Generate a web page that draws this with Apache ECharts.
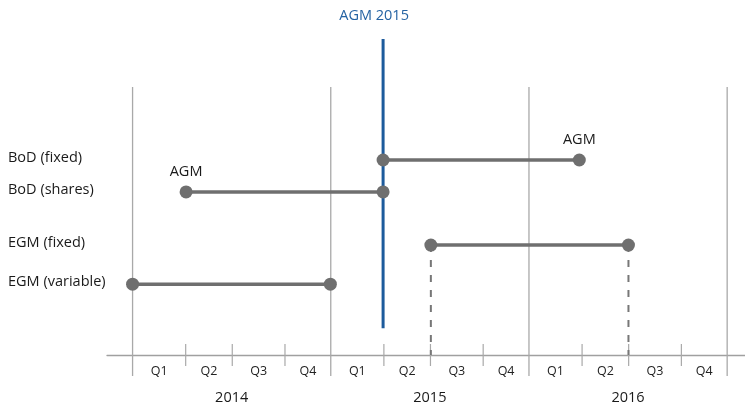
<!DOCTYPE html>
<html>
<head>
<meta charset="utf-8">
<script src="https://cdn.jsdelivr.net/npm/echarts@6/dist/echarts.min.js"></script>
<style>html,body{margin:0;padding:0;background:#fff}#c{width:745px;height:407px}</style>
</head>
<body>
<div id="c"></div>
<script>
// ---- data ----
const years = ['2014', '2015', '2016'];
const quarters = ['Q1', 'Q2', 'Q3', 'Q4'];
const quarterStarts = [0, 0.268, 0.503, 0.769]; // fraction of year at which each quarter starts
const rows = ['BoD (fixed)', 'BoD (shares)', 'EGM (fixed)', 'EGM (variable)'];
const rowLevel = [6.17, 5.16, 3.48, 2.24];
const rangeStart = [1.264, 0.27, 1.505, 0.0];
const rangeEnd = [2.254, 1.264, 2.502, 0.998];
const agmLabelEnd = ['end', 'start', null, null];
const dashedRow = [false, false, true, false];
const agm2015 = 1.264;
const agm2015Label = 'AGM 2015';
const agmLabel = 'AGM';

const FONT = 'Open Sans';
const GRAY = '#6f6f6f';
const GRID_GRAY = '#a9a9a9';

const chart = echarts.init(document.getElementById('c'), null, {renderer: 'canvas'});

const series = [];

// year gridlines, quarter ticks and labels
series.push({
  type: 'custom', z: 1, silent: true,
  data: years.map((y, i) => [i]).concat([[years.length]]),
  renderItem: (params, api) => {
    const i = api.value(0);
    const base = api.coord([i, 0]);
    const children = [{
      type: 'line',
      shape: {x1: base[0], y1: base[1] - 268, x2: base[0], y2: base[1] + 21},
      style: {stroke: GRID_GRAY, lineWidth: 1.3}
    }];
    if (i < years.length) {
      const bounds = quarterStarts.concat([1]);
      for (let q = 0; q < quarters.length; q++) {
        if (q > 0) {
          const t = api.coord([i + quarterStarts[q], 0]);
          children.push({
            type: 'line',
            shape: {x1: t[0], y1: t[1] - 11, x2: t[0], y2: t[1] + 11},
            style: {stroke: GRID_GRAY, lineWidth: 1.2}
          });
        }
        const m = api.coord([i + (bounds[q] + bounds[q + 1]) / 2, 0]);
        children.push({
          type: 'text', x: m[0], y: m[1] + 16,
          style: {text: quarters[q], fill: '#222', fontSize: 12.5, fontFamily: FONT,
                  align: 'center', verticalAlign: 'middle', textAlign: 'center', textVerticalAlign: 'middle'}
        });
      }
      const ym = api.coord([i + 0.5, 0]);
      children.push({
        type: 'text', x: ym[0], y: ym[1] + 42.5,
        style: {text: years[i], fill: '#1a1a1a', fontSize: 14.5, fontFamily: FONT,
                align: 'center', verticalAlign: 'middle', textAlign: 'center', textVerticalAlign: 'middle'}
      });
    }
    return {type: 'group', children};
  }
});

// row labels
series.push({
  type: 'custom', z: 5, silent: true,
  data: rows.map((r, i) => [0, rowLevel[i]]),
  renderItem: (params, api) => {
    const p = api.coord([api.value(0), api.value(1)]);
    return {
      type: 'text', x: 8, y: p[1] - 2,
      style: {text: rows[params.dataIndex], fill: '#1a1a1a', fontSize: 14.5, fontFamily: FONT,
              align: 'left', verticalAlign: 'middle', textAlign: 'left', textVerticalAlign: 'middle'}
    };
  }
});

// AGM 2015 vertical line
series.push({
  type: 'line', z: 3, silent: true, symbol: 'none',
  data: [[agm2015, 10], [agm2015, 0.85]],
  lineStyle: {color: '#1d5b9c', width: 3}
});
series.push({
  type: 'custom', z: 5, silent: true,
  data: [[agm2015, 10]],
  renderItem: (params, api) => {
    const p = api.coord([api.value(0), api.value(1)]);
    return {
      type: 'text', x: p[0] - 9, y: p[1] - 23,
      style: {text: agm2015Label, fill: '#2563a3', fontSize: 14.5, fontFamily: FONT,
              align: 'center', verticalAlign: 'middle', textAlign: 'center', textVerticalAlign: 'middle'}
    };
  }
});

// dashed drop lines
rows.forEach((r, i) => {
  if (!dashedRow[i]) return;
  [rangeStart[i], rangeEnd[i]].forEach(x => {
    series.push({
      type: 'line', z: 4, silent: true, symbol: 'none',
      data: [[x, rowLevel[i]], [x, 0]],
      lineStyle: {color: '#777', width: 2, type: [7, 8]}
    });
  });
});

// ranges
rows.forEach((r, i) => {
  const mk = (x, which) => {
    const item = {value: [x, rowLevel[i]]};
    if (agmLabelEnd[i] === which) {
      item.label = {show: true, position: 'top', distance: 6, formatter: agmLabel,
                    color: '#1a1a1a', fontSize: 14.5, fontFamily: FONT};
    }
    return item;
  };
  series.push({
    name: r, type: 'line', z: 6, silent: true,
    symbol: 'circle', symbolSize: 13, showSymbol: true,
    data: [mk(rangeStart[i], 'start'), mk(rangeEnd[i], 'end')],
    lineStyle: {color: GRAY, width: 3.5},
    itemStyle: {color: GRAY},
    label: {show: false}
  });
});

chart.setOption({
  animation: false,
  grid: {left: 107, right: 0, top: 39, bottom: 52, containLabel: false},
  xAxis: {
    type: 'value', min: -0.129, max: 3.09,
    axisLine: {show: true, lineStyle: {color: '#a0a0a0', width: 1.3}},
    axisTick: {show: false}, axisLabel: {show: false}, splitLine: {show: false}
  },
  yAxis: {
    type: 'value', min: 0, max: 10, show: false,
    axisLine: {show: false}, axisTick: {show: false}, axisLabel: {show: false}, splitLine: {show: false}
  },
  series
});
</script>
</body>
</html>
